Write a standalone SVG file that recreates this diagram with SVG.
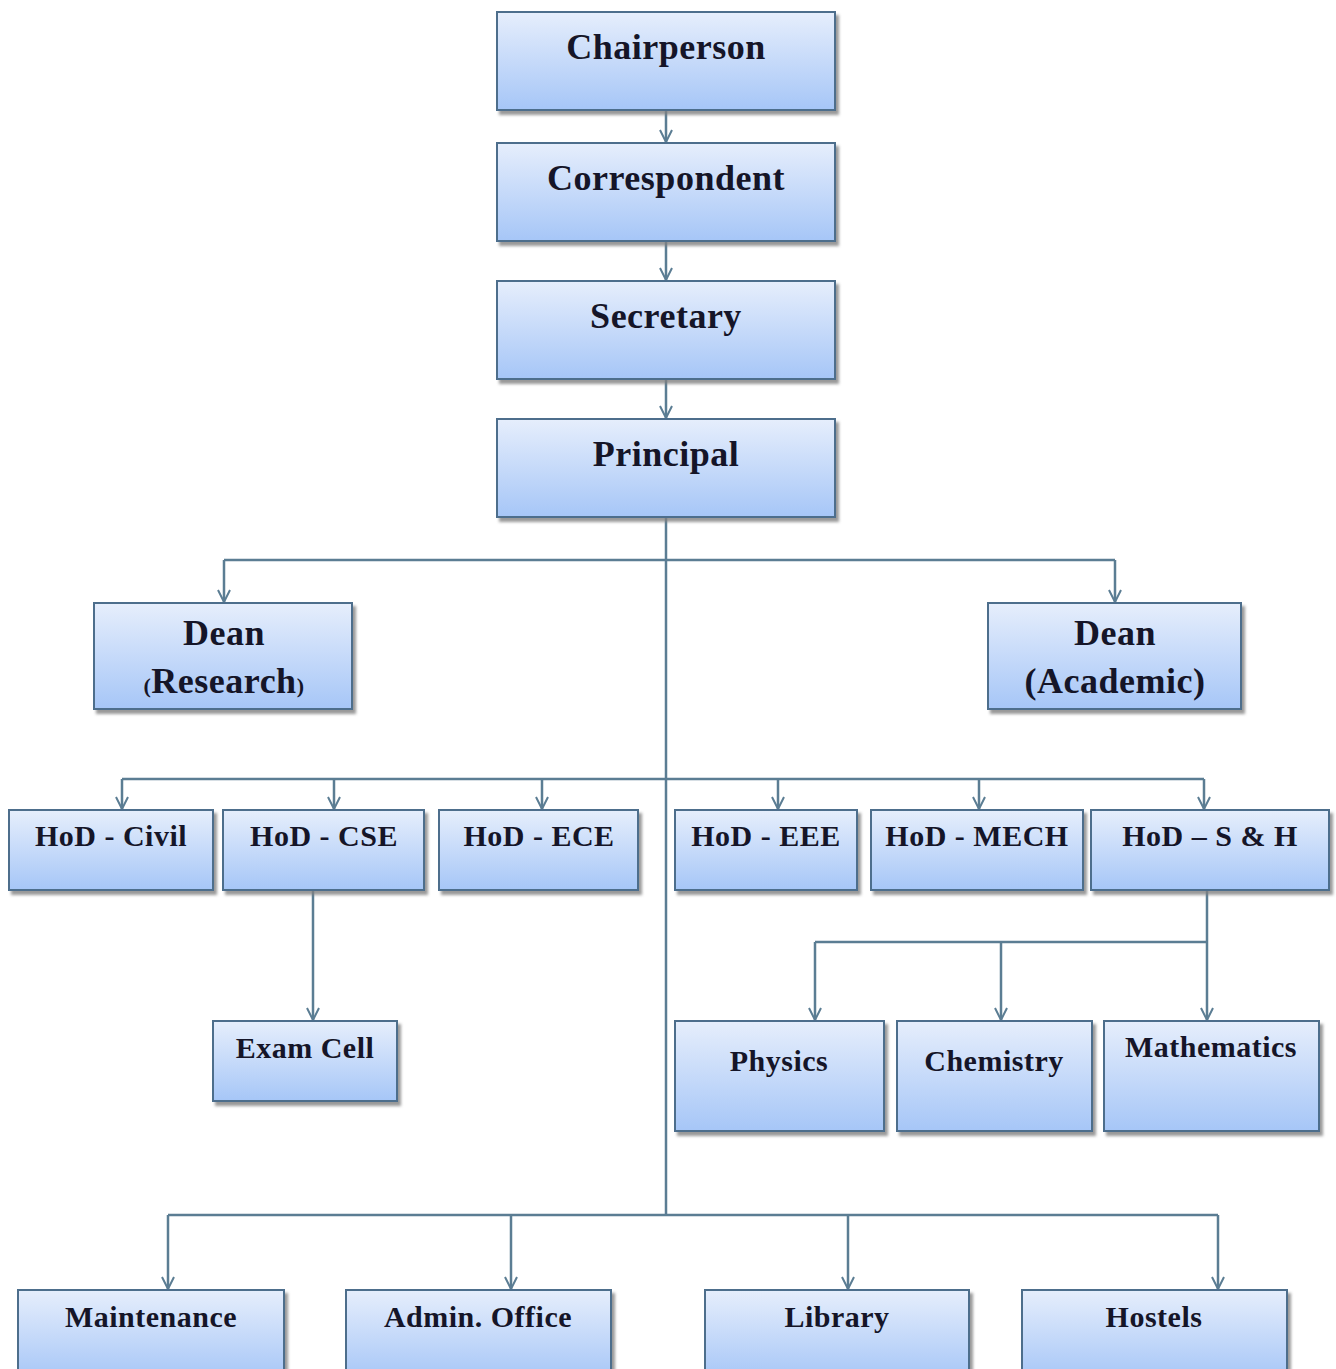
<svg xmlns="http://www.w3.org/2000/svg" width="1336" height="1369" viewBox="0 0 1336 1369">
<defs>
<linearGradient id="g" x1="0" y1="0" x2="0" y2="1">
<stop offset="0" stop-color="#e6eefc"/>
<stop offset="1" stop-color="#a6c6f7"/>
</linearGradient>
<filter id="sh" x="-5%" y="-5%" width="115%" height="125%">
<feDropShadow dx="3" dy="4" stdDeviation="1.5" flood-color="#808080" flood-opacity="0.8"/>
</filter>
<marker id="arr" markerWidth="14" markerHeight="14" refX="13" refY="7" orient="auto" markerUnits="userSpaceOnUse" viewBox="0 0 14 14">
<path d="M1,1 L13,7 L1,13" fill="none" stroke="#5b7d93" stroke-width="2"/>
</marker>
</defs>
<style>
.box{fill:url(#g);stroke:#4e6e8c;stroke-width:2;filter:url(#sh)}
.t{font-family:"Liberation Serif","DejaVu Serif",serif;font-weight:bold;fill:#151528;text-anchor:middle}
.big{font-size:36px;letter-spacing:0.5px}
.mid{font-size:30px;letter-spacing:0.5px}
.c{fill:none;stroke:#5b7d93;stroke-width:2.5}
.a{marker-end:url(#arr)}
</style>
<rect width="1336" height="1369" fill="#ffffff"/>
<g id="connectors">
<path class="c a" d="M666,110 V142"/>
<path class="c a" d="M666,241 V280"/>
<path class="c a" d="M666,379 V418"/>
<path class="c" d="M666,517 V1215"/>
<path class="c" d="M224,560 H1115"/>
<path class="c a" d="M224,560 V602"/>
<path class="c a" d="M1115,560 V602"/>
<path class="c" d="M122,779 H1204"/>
<path class="c a" d="M122,779 V809"/>
<path class="c a" d="M334,779 V809"/>
<path class="c a" d="M542,779 V809"/>
<path class="c a" d="M778,779 V809"/>
<path class="c a" d="M979,779 V809"/>
<path class="c a" d="M1204,779 V809"/>
<path class="c a" d="M313,890 V1020"/>
<path class="c a" d="M1207,890 V1020"/>
<path class="c" d="M815,942 H1207"/>
<path class="c a" d="M815,942 V1020"/>
<path class="c a" d="M1001,942 V1020"/>
<path class="c" d="M168,1215 H1218"/>
<path class="c a" d="M168,1215 V1289"/>
<path class="c a" d="M511,1215 V1289"/>
<path class="c a" d="M848,1215 V1289"/>
<path class="c a" d="M1218,1215 V1289"/>
</g>
<g id="chairperson"><rect class="box" x="497" y="12" width="338" height="98"/><text class="t big" x="666" y="59">Chairperson</text></g>
<g id="correspondent"><rect class="box" x="497" y="143" width="338" height="98"/><text class="t big" x="666" y="190">Correspondent</text></g>
<g id="secretary"><rect class="box" x="497" y="281" width="338" height="98"/><text class="t big" x="666" y="328">Secretary</text></g>
<g id="principal"><rect class="box" x="497" y="419" width="338" height="98"/><text class="t big" x="666" y="466">Principal</text></g>
<g id="dean-research"><rect class="box" x="94" y="603" width="258" height="106"/><text class="t big" x="224" y="645">Dean</text><text class="t big" x="224" y="693"><tspan font-size="22">(</tspan>Research<tspan font-size="22">)</tspan></text></g>
<g id="dean-academic"><rect class="box" x="988" y="603" width="253" height="106"/><text class="t big" x="1115" y="645">Dean</text><text class="t big" x="1115" y="693">(Academic)</text></g>
<g id="hod-civil"><rect class="box" x="9" y="810" width="204" height="80"/><text class="t mid" x="111" y="846">HoD - Civil</text></g>
<g id="hod-cse"><rect class="box" x="223" y="810" width="201" height="80"/><text class="t mid" x="324" y="846">HoD - CSE</text></g>
<g id="hod-ece"><rect class="box" x="439" y="810" width="199" height="80"/><text class="t mid" x="539" y="846">HoD - ECE</text></g>
<g id="hod-eee"><rect class="box" x="675" y="810" width="182" height="80"/><text class="t mid" x="766" y="846">HoD - EEE</text></g>
<g id="hod-mech"><rect class="box" x="871" y="810" width="212" height="80"/><text class="t mid" x="977" y="846">HoD - MECH</text></g>
<g id="hod-sh"><rect class="box" x="1091" y="810" width="238" height="80"/><text class="t mid" x="1210" y="846">HoD – S &amp; H</text></g>
<g id="exam-cell"><rect class="box" x="213" y="1021" width="184" height="80"/><text class="t mid" x="305" y="1058">Exam Cell</text></g>
<g id="physics"><rect class="box" x="675" y="1021" width="209" height="110"/><text class="t mid" x="779" y="1071">Physics</text></g>
<g id="chemistry"><rect class="box" x="897" y="1021" width="195" height="110"/><text class="t mid" x="994" y="1071">Chemistry</text></g>
<g id="mathematics"><rect class="box" x="1104" y="1021" width="215" height="110"/><text class="t mid" x="1211" y="1057">Mathematics</text></g>
<g id="maintenance"><rect class="box" x="18" y="1290" width="266" height="90"/><text class="t mid" x="151" y="1327">Maintenance</text></g>
<g id="admin-office"><rect class="box" x="346" y="1290" width="265" height="90"/><text class="t mid" x="478" y="1327">Admin. Office</text></g>
<g id="library"><rect class="box" x="705" y="1290" width="264" height="90"/><text class="t mid" x="837" y="1327">Library</text></g>
<g id="hostels"><rect class="box" x="1022" y="1290" width="265" height="90"/><text class="t mid" x="1154" y="1327">Hostels</text></g>
</svg>
